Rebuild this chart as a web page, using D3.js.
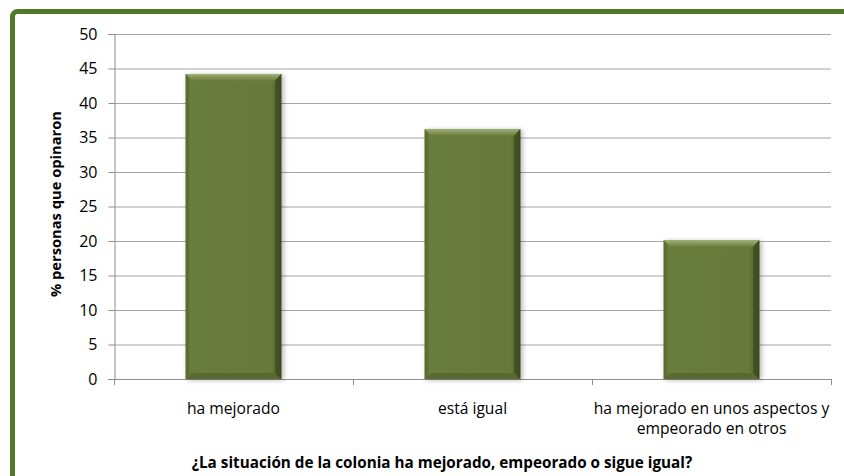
<!DOCTYPE html>
<html><head><meta charset="utf-8">
<script src="https://cdn.jsdelivr.net/npm/d3@7"></script>
<style>body{margin:0;background:#fff}svg{display:block}</style>
</head><body>
<script>
const categories = ["ha mejorado", "está igual", "ha mejorado en unos aspectos y|empeorado en otros"];
const values = [44.2, 36.2, 20.1];
const yTicks = [0,5,10,15,20,25,30,35,40,45,50];
const yTitle = "% personas que opinaron";
const xTitle = "¿La situación de la colonia ha mejorado, empeorado o sigue igual?";

const W = 844, H = 476;
const svg = d3.select("body").append("svg").attr("width", W).attr("height", H);
const font = "'Open Sans', sans-serif";
function fit(sel, target) {
  const fs = parseFloat(sel.attr("font-size"));
  const w = sel.node().getComputedTextLength();
  if (w > 0) sel.attr("font-size", (fs * target / w).toFixed(2));
}

// frame
svg.append("rect").attr("x", 12.5).attr("y", 11.5).attr("width", 860).attr("height", 500)
  .attr("rx", 5).attr("fill", "none").attr("stroke", "#4f7a28").attr("stroke-width", 5);

const x0 = 114, x1 = 831, yTop = 34, yBot = 379;
const x = d3.scaleBand().domain(categories).range([x0, x1]).paddingInner(0.6).paddingOuter(0.3);
const y = d3.scaleLinear().domain([0, 50]).range([yBot, yTop]);

const defs = svg.append("defs");
const gH = defs.append("linearGradient").attr("id","gh").attr("x1",0).attr("x2",1).attr("y1",0).attr("y2",0);
gH.append("stop").attr("offset",0).attr("stop-color","#5a6c30");
gH.append("stop").attr("offset",0.05).attr("stop-color","#687b3b");
gH.append("stop").attr("offset",0.9).attr("stop-color","#677a3a");
gH.append("stop").attr("offset",0.97).attr("stop-color","#4a5a25");
gH.append("stop").attr("offset",1).attr("stop-color","#34401a");
const gV = defs.append("linearGradient").attr("id","gv").attr("x1",0).attr("x2",0).attr("y1",0).attr("y2",1);
gV.append("stop").attr("offset",0).attr("stop-color","#a5b27c");
gV.append("stop").attr("offset",0.35).attr("stop-color","#8c9c5e");
gV.append("stop").attr("offset",1).attr("stop-color","#687b3b");
const flt = defs.append("filter").attr("id","sh").attr("x","-20%").attr("y","-10%").attr("width","140%").attr("height","120%");
flt.append("feDropShadow").attr("dx",2).attr("dy",1).attr("stdDeviation",2.5).attr("flood-color","#000").attr("flood-opacity",0.3);

// gridlines
svg.append("g").selectAll("line").data(yTicks.filter(d => d > 0)).join("line")
  .attr("x1", x0).attr("x2", x1).attr("y1", d => y(d) + 0.5).attr("y2", d => y(d) + 0.5)
  .attr("stroke", "#a6a6a6").attr("stroke-width", 1.2);

// y axis
const ya = svg.append("g").attr("transform", `translate(${x0 + 0.5},0)`)
  .call(d3.axisLeft(y).tickValues(yTicks).tickSize(6).tickPadding(11));
ya.select(".domain").attr("stroke", "#8c8c8c");
ya.selectAll(".tick line").attr("stroke", "#8c8c8c");
ya.selectAll("text").attr("font-family", font).attr("font-size", 16).attr("fill", "#000");

// x axis
svg.append("line").attr("x1", x0 - 6).attr("x2", x1).attr("y1", yBot + 0.5).attr("y2", yBot + 0.5).attr("stroke", "#8c8c8c");
const bounds = d3.range(categories.length + 1).map(i => x0 + i * x.step());
svg.append("g").selectAll("line").data(bounds).join("line")
  .attr("x1", d => Math.round(d) + 0.5).attr("x2", d => Math.round(d) + 0.5)
  .attr("y1", yBot).attr("y2", yBot + 6).attr("stroke", "#8c8c8c");

// bars
const bars = svg.append("g").selectAll("g").data(categories).join("g")
  .attr("filter","url(#sh)");
bars.each(function(c, i) {
  const g = d3.select(this);
  const bx = x(c), bw = x.bandwidth(), by = y(values[i]), bh = yBot - y(values[i]);
  g.append("rect").attr("x", bx).attr("y", by).attr("width", bw).attr("height", bh).attr("fill", "url(#gh)");
  g.append("path").attr("d", `M${bx},${by} L${bx+bw},${by} L${bx+bw-7},${by+7} L${bx+7},${by+7} Z`).attr("fill","url(#gv)");
  g.append("path").attr("d", `M${bx},${by+bh} L${bx+bw},${by+bh} L${bx+bw-7},${by+bh-6} L${bx+7},${by+bh-6} Z`).attr("fill","#596b2f");
  g.append("path").attr("d", `M${bx+bw},${by} L${bx+bw},${by+bh} L${bx+bw-6},${by+bh-6} L${bx+bw-6},${by+7} Z`).attr("fill","#3f4d1f").attr("opacity",0.85);
  g.append("path").attr("d", `M${bx},${by} L${bx},${by+bh} L${bx+3},${by+bh-3} L${bx+3},${by+4} Z`).attr("fill","#5b6d31");
});

// category labels
const catSize = 15;
const cl = svg.append("g").selectAll("text").data(categories).join("text")
  .attr("x", c => x(c) + x.bandwidth()/2).attr("y", 414)
  .attr("text-anchor", "middle").attr("font-family", font).attr("font-size", catSize).attr("fill", "#000")
  .each(function(c) {
    const t = d3.select(this);
    c.split("|").forEach((line, k) => t.append("tspan").attr("x", x(c) + x.bandwidth()/2).attr("dy", k ? 20 : 0).text(line));
  });
{
  const n = cl.filter((d, i) => i === 0).node();
  const w = n.getComputedTextLength();
  if (w > 0) cl.attr("font-size", (catSize * 93 / w).toFixed(2));
}

// titles
const yt = svg.append("text").attr("transform", "translate(61,204) rotate(-90)").attr("text-anchor", "middle")
  .attr("font-family", font).attr("font-size", 13).attr("font-weight", "bold").text(yTitle);
fit(yt, 186);
const xt = svg.append("text").attr("x", 442).attr("y", 468).attr("text-anchor", "middle")
  .attr("font-family", font).attr("font-size", 13).attr("font-weight", "bold").text(xTitle);
fit(xt, 501);
</script>
</body></html>
